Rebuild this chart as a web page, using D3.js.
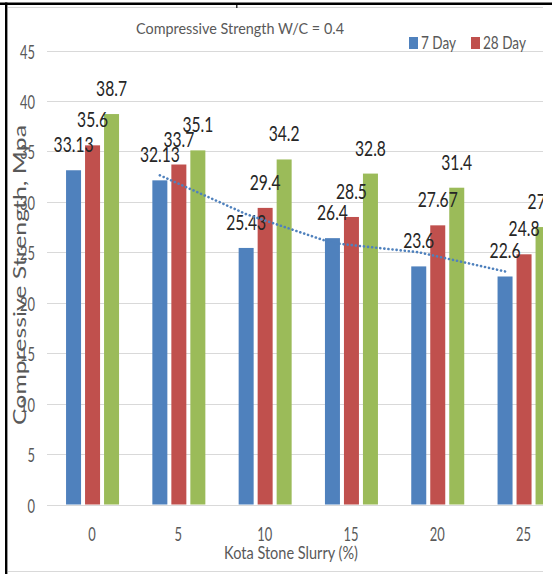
<!DOCTYPE html>
<html>
<head>
<meta charset="utf-8">
<script src="https://cdn.jsdelivr.net/npm/d3@7/dist/d3.min.js"></script>
<style>
  html, body { margin: 0; padding: 0; background: #fff; }
  svg { display: block; }
  text { font-family: Lato, "Open Sans", sans-serif; }
</style>
</head>
<body>
<svg id="chart" width="552" height="574"></svg>
<script>
// ---- data ----
const categories = ["0", "5", "10", "15", "20", "25"];
const seriesNames = ["7 Day", "28 Day", "90 Day"];
const day7 = [33.13, 32.13, 25.43, 26.4, 23.6, 22.6];
const day28 = [35.6, 33.7, 29.4, 28.5, 27.67, 24.8];
const day90 = [38.7, 35.1, 34.2, 32.8, 31.4, 27.5];
const yTicks = [0, 5, 10, 15, 20, 25, 30, 35, 40, 45];
const titleText = "Compressive Strength W/C = 0.4";
const xTitleText = "Kota Stone Slurry (%)";
const yTitleText = "Compressive Strength, Mpa";

const seriesValues = [day7, day28, day90];
const colors = ["#4f81bd", "#c0504d", "#9bbb59"];

const svg = d3.select("#chart");
svg.append("rect").attr("width", 552).attr("height", 574).attr("fill", "#fff");

// measuring helper for horizontal squeeze
const meas = svg.append("text").attr("x", -1000).attr("y", -1000);
function natWidth(str, size) {
  meas.attr("font-size", size).text(str);
  return meas.node().getComputedTextLength();
}
function sq(target, str, size) { return target / natWidth(str, size); }

function addText(parent, x, y, str, o) {
  const t = parent.append("text")
    .attr("transform", `translate(${x},${y}) rotate(${o.rot || 0}) scale(${o.sx || 1},1)`)
    .attr("text-anchor", o.anchor || "start")
    .attr("font-size", o.size)
    .attr("fill", o.fill || "#595959")
    .text(str);
  return t;
}

// clip (image content ends near x=543)
const defs = svg.append("defs");
defs.append("clipPath").attr("id", "clip")
  .append("rect").attr("x", 0).attr("y", 0).attr("width", 543).attr("height", 574);

const root = svg.append("g").attr("clip-path", "url(#clip)");

// scales
const x = d3.scaleBand().domain(categories).range([48.9, 566.7]);
const xs = d3.scaleBand().domain(seriesNames).range([-26, 27]).paddingInner(0.2105);
const y = d3.scaleLinear().domain([0, 45]).range([504.5, 50.5]);

// inner chart border (light gray)
root.append("line").attr("x1", 8).attr("x2", 552).attr("y1", 7.5).attr("y2", 7.5)
  .attr("stroke", "#d9d9d9").attr("stroke-width", 1);
root.append("line").attr("x1", 8).attr("x2", 552).attr("y1", 571.5).attr("y2", 571.5)
  .attr("stroke", "#d9d9d9").attr("stroke-width", 1);

// gridlines
root.append("g").selectAll("line").data(yTicks).join("line")
  .attr("x1", 47).attr("x2", 552)
  .attr("y1", d => Math.round(y(d)) + 0.5).attr("y2", d => Math.round(y(d)) + 0.5)
  .attr("stroke", "#d9d9d9").attr("stroke-width", 1);

// bars
const groups = root.append("g").selectAll("g").data(categories).join("g")
  .attr("transform", d => `translate(${x(d) + x.bandwidth() / 2},0)`);
groups.selectAll("rect")
  .data((c, i) => seriesNames.map((s, k) => ({ s, k, v: seriesValues[k][i] })))
  .join("rect")
  .attr("x", d => xs(d.s))
  .attr("width", xs.bandwidth())
  .attr("y", d => y(d.v))
  .attr("height", d => y(0) - y(d.v))
  .attr("fill", d => colors[d.k]);

// trendline: 2-period moving average of 7 Day series
const ma = [];
for (let i = 1; i < day7.length; i++) {
  ma.push({ c: categories[i], v: (day7[i] + day7[i - 1]) / 2 });
}
const line = d3.line()
  .x(d => x(d.c) + x.bandwidth() / 2 + xs("7 Day") + xs.bandwidth() / 2)
  .y(d => y(d.v));
root.append("path").datum(ma).attr("d", line)
  .attr("fill", "none").attr("stroke", "#4f81bd").attr("stroke-width", 2.6)
  .attr("stroke-linecap", "round").attr("stroke-dasharray", "0.1 4");

// data labels
const lblSize = 21;
const lblSx = sq(40, "33.13", lblSize);
groups.each(function (c, i) {
  const g = d3.select(this);
  seriesNames.forEach((s, k) => {
    const v = seriesValues[k][i];
    addText(g, xs(s) + xs.bandwidth() / 2, y(v) - 18, String(v),
      { size: lblSize, anchor: "middle", sx: lblSx, fill: "#262626" });
  });
});

// y tick labels
const tickSize = 19;
const ySx = sq(15, "45", tickSize);
yTicks.forEach(t => {
  addText(svg, 35, y(t) + 8, String(t), { size: tickSize, anchor: "end", sx: ySx });
});

// x tick labels
const xSx = sq(15, "25", tickSize);
categories.forEach(c => {
  addText(root, x(c) + x.bandwidth() / 2, 541, c, { size: tickSize, anchor: "middle", sx: xSx });
});

// x axis title
addText(root, 291, 559, xTitleText, { size: 17, anchor: "middle", sx: sq(134, xTitleText, 17) });

// y axis title
addText(svg, 26, 275, yTitleText, { size: 18, anchor: "middle", rot: -90, sx: 1, fill: "#595959" })
  .attr("transform", `translate(26,275) rotate(-90) scale(${sq(300, yTitleText, 18)},1)`);

// chart title
addText(root, 240, 33.5, titleText, { size: 16, anchor: "middle", sx: sq(208, titleText, 16) });

// legend (first two entries visible)
const legSize = 17;
const legSx = sq(43, "28 Day", legSize);
const legX = [409, 471];
[0, 1].forEach(k => {
  root.append("rect").attr("x", legX[k]).attr("y", 37).attr("width", 9).attr("height", 12)
    .attr("fill", colors[k]);
  addText(root, legX[k] + 12, 49, seriesNames[k], { size: legSize, sx: legSx });
});

// outer frame (black) and small mark
svg.append("rect").attr("x", 0).attr("y", 2.5).attr("width", 552).attr("height", 2.5).attr("fill", "#000");
svg.append("rect").attr("x", 5).attr("y", 2.5).attr("width", 2.4).attr("height", 572).attr("fill", "#000");
svg.append("rect").attr("x", 236).attr("y", 5).attr("width", 1.5).attr("height", 3).attr("fill", "#333");

meas.remove();
</script>
</body>
</html>
